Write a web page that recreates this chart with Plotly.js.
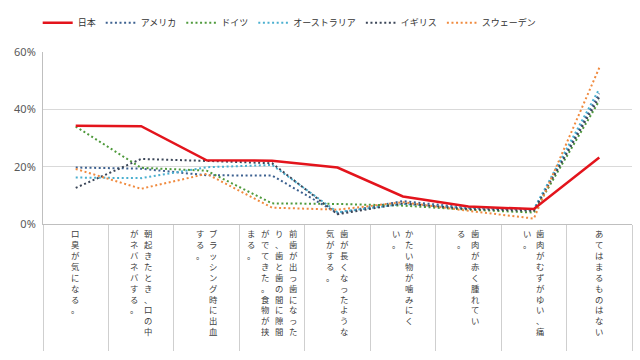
<!DOCTYPE html>
<html>
<head>
<meta charset="utf-8">
<script src="https://cdn.plot.ly/plotly-3.0.1.min.js"></script>
<style>html,body{margin:0;padding:0;background:#fff;}#chart{width:640px;height:360px;}</style>
</head>
<body>
<div id="chart"></div>
<script>
// Categories (x axis), as full labels
const categories = [
  "口臭が気になる。",
  "朝起きたとき、口の中がネバネバする。",
  "ブラッシング時に出血する。",
  "前歯が出っ歯になったり、歯と歯の間に隙間がでてきた。食物が挟まる。",
  "歯が長くなったような気がする。",
  "かたい物が噛みにくい。",
  "歯肉が赤く腫れている。",
  "歯肉がむずがゆい、痛い。",
  "あてはまるものはない"
];
// Vertical label columns (right to left)
const labelColumns = [
  ["口臭が気になる。"],
  ["朝起きたとき、口の中", "がネバネバする。"],
  ["ブラッシング時に出血", "する。"],
  ["前歯が出っ歯になった", "り、歯と歯の間に隙間", "がでてきた。食物が挟", "まる。"],
  ["歯が長くなったような", "気がする。"],
  ["かたい物が噛みにく", "い。"],
  ["歯肉が赤く腫れてい", "る。"],
  ["歯肉がむずがゆい、痛", "い。"],
  ["あてはまるものはない"]
];
const seriesNames = ["日本", "アメリカ", "ドイツ", "オーストラリア", "イギリス", "スウェーデン"];
const japan     = [34.3, 34.1, 22.2, 22.1, 19.7, 9.6, 6.1, 5.2, 23.2];
const america   = [19.7, 19.3, 17.0, 16.9, 3.8, 8.0, 5.6, 5.0, 45.5];
const germany   = [34.0, 19.6, 18.6, 7.2, 7.0, 6.4, 5.0, 4.0, 43.0];
const australia = [16.2, 16.0, 19.8, 20.6, 4.1, 7.0, 5.6, 5.2, 47.1];
const britain   = [12.6, 22.7, 22.0, 21.2, 3.4, 7.2, 5.2, 4.6, 44.3];
const sweden    = [19.2, 12.3, 17.5, 5.7, 5.0, 7.6, 4.6, 1.9, 54.5];

const yTicks = [0, 20, 40, 60];
const yTickText = ["0%", "20%", "40%", "60%"];

const xIdx = categories.map((c, i) => i);
const dotDash = "2px,2.6px";

function dotted(name, vals, color, rank) {
  return {x: xIdx, y: vals, name: name, type: "scatter", mode: "lines",
    line: {color: color, width: 2, dash: dotDash}, legendrank: rank, hoverinfo: "skip"};
}
const data = [
  dotted(seriesNames[1], america, "#3d6190", 2),
  dotted(seriesNames[2], germany, "#4f9a3c", 3),
  dotted(seriesNames[3], australia, "#4bb0d0", 4),
  dotted(seriesNames[4], britain, "#3b4658", 5),
  dotted(seriesNames[5], sweden, "#f08a3e", 6),
  {x: xIdx, y: japan, name: seriesNames[0], type: "scatter", mode: "lines",
    line: {color: "#e3141c", width: 2.5}, legendrank: 1, hoverinfo: "skip"}
];

const annotations = [];
const colGap = 14;
labelColumns.forEach((cols, i) => {
  const n = cols.length;
  cols.forEach((col, j) => {
    const offset = ((n - 1) / 2 - j) * colGap;
    annotations.push({
      xref: "x", yref: "paper", x: i, y: 0,
      xanchor: "center", yanchor: "top",
      xshift: offset, yshift: -1,
      showarrow: false, align: "center",
      text: Array.from(col).join("<br>"),
      font: {family: "Noto Sans CJK JP", size: 8.4, color: "#404040"}
    });
  });
});

const layout = {
  width: 640, height: 360,
  margin: {l: 43, r: 8, t: 47, b: 136},
  paper_bgcolor: "#ffffff", plot_bgcolor: "#ffffff",
  showlegend: true,
  legend: {orientation: "h", x: -0.009, y: 1.17, xanchor: "left", yanchor: "middle",
    font: {family: "Noto Sans CJK JP", size: 9, color: "#333333"},
    bgcolor: "rgba(0,0,0,0)", itemwidth: 30, traceorder: "normal"},
  xaxis: {
    type: "linear", range: [-0.5, 8.5], showgrid: false, zeroline: false,
    showline: true, linecolor: "#bfbfbf", linewidth: 1,
    tickvals: [-0.5, 0.5, 1.5, 2.5, 3.5, 4.5, 5.5, 6.5, 7.5, 8.5],
    ticks: "outside", ticklen: 126, tickcolor: "#cfcfcf", tickwidth: 1,
    showticklabels: false, fixedrange: true
  },
  yaxis: {
    range: [0, 60], tickvals: yTicks, ticktext: yTickText,
    showgrid: true, gridcolor: "#d9d9d9", gridwidth: 1,
    zeroline: false, showline: true, linecolor: "#bfbfbf", linewidth: 1,
    ticks: "", ticklabelstandoff: 4,
    tickfont: {family: "Noto Sans", size: 11, color: "#595959"}, fixedrange: true
  },
  annotations: annotations
};

Plotly.newPlot("chart", data, layout, {displayModeBar: false, staticPlot: true});
</script>
</body>
</html>
